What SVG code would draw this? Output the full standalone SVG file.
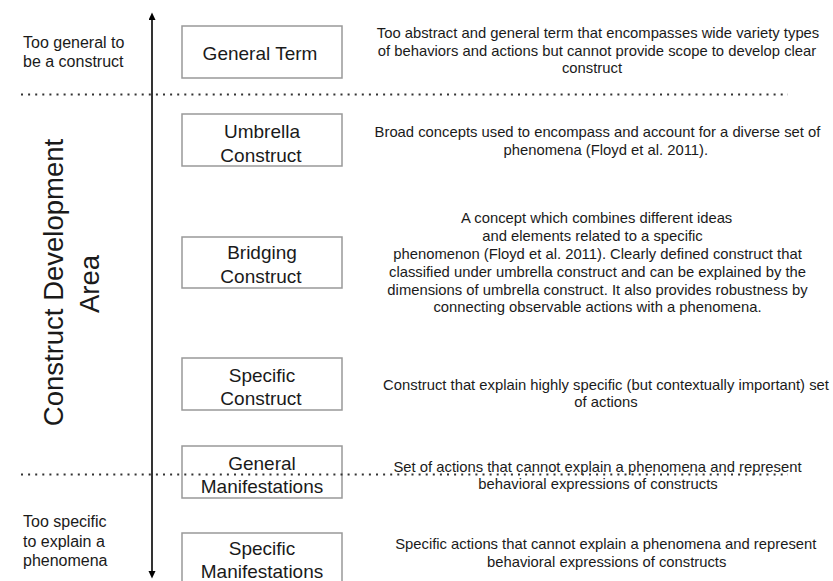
<svg xmlns="http://www.w3.org/2000/svg" width="833" height="581" viewBox="0 0 833 581">
<style>
text{font-family:"Liberation Sans",Arial,Helvetica,sans-serif;fill:#1a1a1a}
.box{fill:#fff;stroke:#999;stroke-width:1.5}
.lbl{font-size:19px;text-anchor:middle}
.desc{font-size:14.8px;text-anchor:middle}
.side{font-size:16px}
.big{font-size:27.5px;text-anchor:middle}
.dots{stroke:#333;stroke-width:2;stroke-dasharray:2 5.1;fill:none}
.axis{stroke:#000;stroke-width:1.6;fill:none}
</style>
<defs>
<marker id="ah" markerUnits="userSpaceOnUse" markerWidth="8" markerHeight="8" refX="0" refY="3.5" orient="auto-start-reverse">
<path d="M0,0 L7.5,3.5 L0,7 z" fill="#000"/>
</marker>
</defs>
<rect width="833" height="581" fill="#fff"/>

<g id="side-labels">
<text class="side" x="23" y="48">Too general to</text>
<text class="side" x="23" y="67">be a construct</text>
<text class="big" transform="translate(63,282.5) rotate(-90)">Construct Development</text>
<text class="big" transform="translate(99,284) rotate(-90)">Area</text>
<text class="side" x="23" y="527">Too specific</text>
<text class="side" x="23" y="547">to explain a</text>
<text class="side" x="23" y="566">phenomena</text>
</g>

<g id="general-term">
<rect class="box" x="182" y="26" width="160" height="52"/>
<text class="lbl" x="260" y="60">General Term</text>
<text class="desc" x="598" y="38">Too abstract and general term that encompasses wide variety types</text>
<text class="desc" x="597" y="56">of behaviors and actions but cannot provide scope to develop clear</text>
<text class="desc" x="592" y="73">construct</text>
</g>

<g id="umbrella-construct">
<rect class="box" x="182" y="114" width="160" height="52"/>
<text class="lbl" x="262" y="138">Umbrella</text>
<text class="lbl" x="261" y="162">Construct</text>
<text class="desc" x="597.5" y="137">Broad concepts used to encompass and account for a diverse set of</text>
<text class="desc" x="605.8" y="155">phenomena (Floyd et al. 2011).</text>
</g>

<g id="bridging-construct">
<rect class="box" x="182" y="237" width="160" height="51"/>
<text class="lbl" x="262" y="259">Bridging</text>
<text class="lbl" x="261" y="283">Construct</text>
<text class="desc" x="596.7" y="223">A concept which combines different ideas</text>
<text class="desc" x="592.5" y="241">and elements related to a specific</text>
<text class="desc" x="597.5" y="259">phenomenon (Floyd et al. 2011). Clearly defined construct that</text>
<text class="desc" x="597.5" y="277">classified under umbrella construct and can be explained by the</text>
<text class="desc" x="597.5" y="295">dimensions of umbrella construct. It also provides robustness by</text>
<text class="desc" x="597.5" y="312">connecting observable actions with a phenomena.</text>
</g>

<g id="specific-construct">
<rect class="box" x="182" y="358" width="160" height="52"/>
<text class="lbl" x="262" y="382">Specific</text>
<text class="lbl" x="261" y="405">Construct</text>
<text class="desc" x="606" y="390">Construct that explain highly specific (but contextually important) set</text>
<text class="desc" x="606" y="407">of actions</text>
</g>

<g id="general-manifestations">
<rect class="box" x="182" y="446" width="160" height="52"/>
<text class="lbl" x="262" y="470">General</text>
<text class="lbl" x="262" y="493">Manifestations</text>
<text class="desc" x="597.5" y="472">Set of actions that cannot explain a phenomena and represent</text>
<text class="desc" x="598" y="489">behavioral expressions of constructs</text>
</g>

<g id="specific-manifestations">
<rect class="box" x="182" y="533" width="160" height="52"/>
<text class="lbl" x="262" y="555">Specific</text>
<text class="lbl" x="262" y="578">Manifestations</text>
<text class="desc" x="605.8" y="549">Specific actions that cannot explain a phenomena and represent</text>
<text class="desc" x="606.7" y="567">behavioral expressions of constructs</text>
</g>

<g id="connectors">
<line class="dots" x1="21" y1="94.5" x2="788" y2="94.5"/>
<line class="dots" x1="21" y1="474.5" x2="788" y2="474.5"/>
<line class="axis" x1="152" y1="20" x2="152" y2="571" marker-start="url(#ah)" marker-end="url(#ah)"/>
</g>
</svg>
